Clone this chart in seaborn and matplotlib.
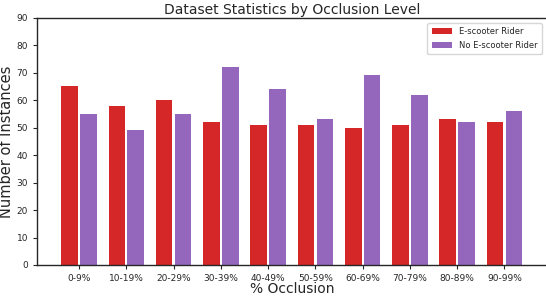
import numpy as np
import pandas as pd
import matplotlib
matplotlib.use("Agg")
import matplotlib.pyplot as plt
import seaborn as sns

categories = ["0-9%", "10-19%", "20-29%", "30-39%", "40-49%",
              "50-59%", "60-69%", "70-79%", "80-89%", "90-99%"]
rider = [65, 58, 60, 52, 51, 51, 50, 51, 53, 52]
no_rider = [55, 49, 55, 72, 64, 53, 69, 62, 52, 56]
series_names = ["E-scooter Rider", "No E-scooter Rider"]

df = pd.DataFrame({
    "occlusion": categories * 2,
    "count": rider + no_rider,
    "series": [series_names[0]] * len(categories) + [series_names[1]] * len(categories),
})

sns.set_style("ticks")
plt.rcParams["font.family"] = ["DejaVu Sans"]

fig = plt.figure(figsize=(5.46, 2.96), dpi=100)
ax = fig.add_axes([37 / 546, 1 - 265 / 296, 509.5 / 546, (265 - 17.7) / 296])

sns.barplot(data=df, x="occlusion", y="count", hue="series",
            palette=["#d62728", "#9467bd"], width=0.8, gap=0.12,
            saturation=1, linewidth=0, ax=ax)

ax.set_xlim(-0.89, 9.89)
ax.set_ylim(0, 90)
ax.set_yticks(range(0, 91, 10))
ax.tick_params(axis="both", labelsize=6.5, length=3, width=0.8)
ax.set_xlabel("% Occlusion", fontsize=10, labelpad=-1)
ax.set_ylabel("Number of Instances", fontsize=10.5)
ax.yaxis.set_label_coords(-0.045, 0.5)
ax.set_title("Dataset Statistics by Occlusion Level", fontsize=10, pad=3)
for s in ax.spines.values():
    s.set_linewidth(1.0)
ax.legend(title=None, loc="upper right", fontsize=6, frameon=True,
          bbox_to_anchor=(0.991, 0.978), borderaxespad=0,
          handlelength=2.5, borderpad=0.5, labelspacing=0.6)

fig.savefig("out.png", dpi=100)
